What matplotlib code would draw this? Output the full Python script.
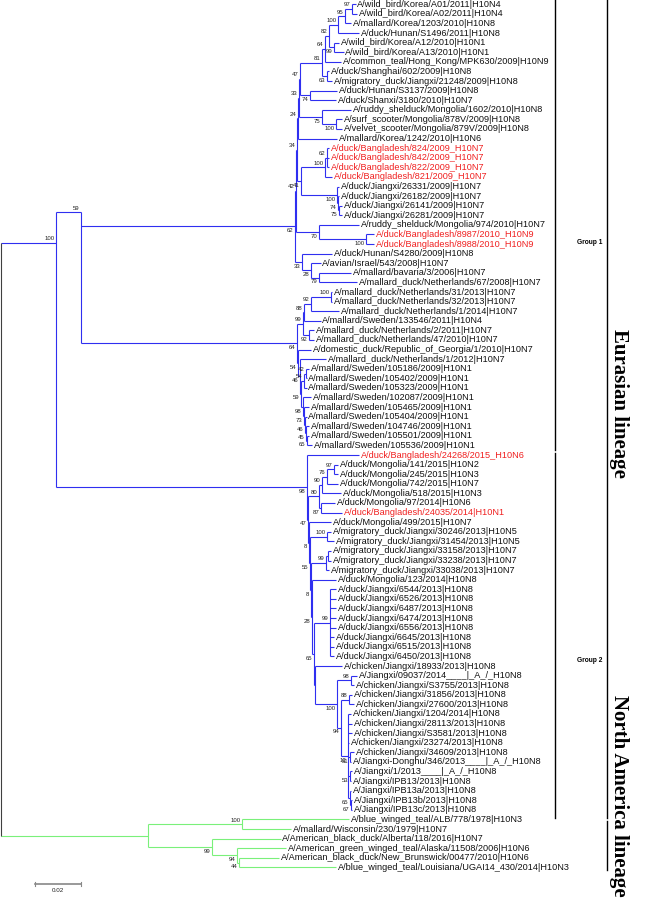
import matplotlib.pyplot as plt
from matplotlib.lines import Line2D

plt.rcParams['font.family'] = ['Liberation Sans', 'DejaVu Sans']

taxa = [
    "A/wild_bird/Korea/A01/2011|H10N4", "A/wild_bird/Korea/A02/2011|H10N4",
    "A/mallard/Korea/1203/2010|H10N8", "A/duck/Hunan/S1496/2011|H10N8",
    "A/wild_bird/Korea/A12/2010|H10N1", "A/wild_bird/Korea/A13/2010|H10N1",
    "A/common_teal/Hong_Kong/MPK630/2009|H10N9", "A/duck/Shanghai/602/2009|H10N8",
    "A/migratory_duck/Jiangxi/21248/2009|H10N8", "A/duck/Hunan/S3137/2009|H10N8",
    "A/duck/Shanxi/3180/2010|H10N7", "A/ruddy_shelduck/Mongolia/1602/2010|H10N8",
    "A/surf_scooter/Mongolia/878V/2009|H10N8", "A/velvet_scooter/Mongolia/879V/2009|H10N8",
    "A/mallard/Korea/1242/2010|H10N6", "A/duck/Bangladesh/824/2009_H10N7",
    "A/duck/Bangladesh/842/2009_H10N7", "A/duck/Bangladesh/822/2009_H10N7",
    "A/duck/Bangladesh/821/2009_H10N7", "A/duck/Jiangxi/26331/2009|H10N7",
    "A/duck/Jiangxi/26182/2009|H10N7", "A/duck/Jiangxi/26141/2009|H10N7",
    "A/duck/Jiangxi/26281/2009|H10N7", "A/ruddy_shelduck/Mongolia/974/2010|H10N7",
    "A/duck/Bangladesh/8987/2010_H10N9", "A/duck/Bangladesh/8988/2010_H10N9",
    "A/duck/Hunan/S4280/2009|H10N8", "A/avian/Israel/543/2008|H10N7",
    "A/mallard/bavaria/3/2006|H10N7", "A/mallard_duck/Netherlands/67/2008|H10N7",
    "A/mallard_duck/Netherlands/31/2013|H10N7", "A/mallard_duck/Netherlands/32/2013|H10N7",
    "A/mallard_duck/Netherlands/1/2014|H10N7", "A/mallard/Sweden/133546/2011|H10N4",
    "A/mallard_duck/Netherlands/2/2011|H10N7", "A/mallard_duck/Netherlands/47/2010|H10N7",
    "A/domestic_duck/Republic_of_Georgia/1/2010|H10N7", "A/mallard_duck/Netherlands/1/2012|H10N7",
    "A/mallard/Sweden/105186/2009|H10N1", "A/mallard/Sweden/105402/2009|H10N1",
    "A/mallard/Sweden/105323/2009|H10N1", "A/mallard/Sweden/102087/2009|H10N1",
    "A/mallard/Sweden/105465/2009|H10N1", "A/mallard/Sweden/105404/2009|H10N1",
    "A/mallard/Sweden/104746/2009|H10N1", "A/mallard/Sweden/105501/2009|H10N1",
    "A/mallard/Sweden/105536/2009|H10N1", "A/duck/Bangladesh/24268/2015_H10N6",
    "A/duck/Mongolia/141/2015|H10N2", "A/duck/Mongolia/245/2015|H10N3",
    "A/duck/Mongolia/742/2015|H10N7", "A/duck/Mongolia/518/2015|H10N3",
    "A/duck/Mongolia/97/2014|H10N6", "A/duck/Bangladesh/24035/2014|H10N1",
    "A/duck/Mongolia/499/2015|H10N7", "A/migratory_duck/Jiangxi/30246/2013|H10N5",
    "A/migratory_duck/Jiangxi/31454/2013|H10N5", "A/migratory_duck/Jiangxi/33158/2013|H10N7",
    "A/migratory_duck/Jiangxi/33238/2013|H10N7", "A/migratory_duck/Jiangxi/33038/2013|H10N7",
    "A/duck/Mongolia/123/2014|H10N8", "A/duck/Jiangxi/6544/2013|H10N8",
    "A/duck/Jiangxi/6526/2013|H10N8", "A/duck/Jiangxi/6487/2013|H10N8",
    "A/duck/Jiangxi/6474/2013|H10N8", "A/duck/Jiangxi/6556/2013|H10N8",
    "A/duck/Jiangxi/6645/2013|H10N8", "A/duck/Jiangxi/6515/2013|H10N8",
    "A/duck/Jiangxi/6450/2013|H10N8", "A/chicken/Jiangxi/18933/2013|H10N8",
    "A/Jiangxi/09037/2014____|_A_/_H10N8", "A/chicken/Jiangxi/S3755/2013|H10N8",
    "A/chicken/Jiangxi/31856/2013|H10N8", "A/chicken/Jiangxi/27600/2013|H10N8",
    "A/chicken/Jiangxi/1204/2014|H10N8", "A/chicken/Jiangxi/28113/2013|H10N8",
    "A/chicken/Jiangxi/S3581/2013|H10N8", "A/chicken/Jiangxi/23274/2013|H10N8",
    "A/chicken/Jiangxi/34609/2013|H10N8", "A/Jiangxi-Donghu/346/2013____|_A_/_H10N8",
    "A/Jiangxi/1/2013____|_A_/_H10N8", "A/Jiangxi/IPB13/2013|H10N8",
    "A/Jiangxi/IPB13a/2013|H10N8", "A/Jiangxi/IPB13b/2013|H10N8",
    "A/Jiangxi/IPB13c/2013|H10N8", "A/blue_winged_teal/ALB/778/1978|H10N3",
    "A/mallard/Wisconsin/230/1979|H10N7", "A/American_black_duck/Alberta/118/2016|H10N7",
    "A/American_green_winged_teal/Alaska/11508/2006|H10N6",
    "A/American_black_duck/New_Brunswick/00477/2010|H10N6",
    "A/blue_winged_teal/Louisiana/UGAI14_430/2014|H10N3",
]

# leaf numbers (1-based) of the Bangladesh sequences shown in red
bangladesh = [16, 17, 18, 19, 25, 26, 48, 54]

# root-to-tip distance of every taxon (substitutions/site)
tip_depth = [
    0.1543, 0.1548, 0.1522, 0.1557, 0.1470, 0.1491, 0.1478, 0.1426, 0.1439, 0.1461,
    0.1457, 0.1522, 0.1483, 0.1483, 0.1461, 0.1426, 0.1426, 0.1426, 0.1439, 0.1470,
    0.1470, 0.1483, 0.1483, 0.1557, 0.1622, 0.1622, 0.1439, 0.1391, 0.1522, 0.1548,
    0.1439, 0.1439, 0.1470, 0.1391, 0.1361, 0.1361, 0.1348, 0.1413, 0.1339, 0.1330,
    0.1330, 0.1348, 0.1339, 0.1330, 0.1339, 0.1339, 0.1352, 0.1557, 0.1465, 0.1465,
    0.1465, 0.1478, 0.1452, 0.1483, 0.1435, 0.1435, 0.1448, 0.1435, 0.1435, 0.1426,
    0.1457, 0.1457, 0.1457, 0.1457, 0.1457, 0.1457, 0.1448, 0.1448, 0.1448, 0.1483,
    0.1548, 0.1535, 0.1526, 0.1535, 0.1522, 0.1526, 0.1526, 0.1513, 0.1535, 0.1522,
    0.1526, 0.1522, 0.1522, 0.1526, 0.1526, 0.1513, 0.1261, 0.1217, 0.1239, 0.1209,
    0.1457,
]

# internal nodes: first leaf, last leaf (1-based), node depth, bootstrap
clades = [
    # Group 1
    (1, 2, 0.1526, 97), (1, 3, 0.1496, 95), (1, 4, 0.1465, 100), (5, 6, 0.1448, 99),
    (1, 6, 0.1426, 82), (1, 7, 0.1409, 64), (8, 9, 0.1417, 63), (1, 9, 0.1396, 81),
    (10, 11, 0.1343, 74), (1, 11, 0.1300, 47), (13, 14, 0.1457, 100), (12, 14, 0.1396, 75),
    (1, 14, 0.1296, 33), (1, 15, 0.1291, 24), (16, 18, 0.1417, 62), (16, 19, 0.1409, 100),
    (22, 23, 0.1470, 75), (21, 23, 0.1465, 74), (20, 23, 0.1461, 100), (16, 23, 0.1304, 41),
    (1, 23, 0.1287, 34), (25, 26, 0.1587, 100), (24, 26, 0.1383, 70), (1, 26, 0.1283, 42),
    (29, 30, 0.1383, 79), (28, 30, 0.1348, 28), (27, 30, 0.1309, 33), (1, 30, 0.1278, 62),
    (31, 32, 0.1435, 100), (31, 33, 0.1348, 92), (31, 34, 0.1317, 88), (35, 36, 0.1339, 92),
    (31, 36, 0.1313, 99), (39, 40, 0.1326, 42), (39, 41, 0.1317, 54), (46, 47, 0.1330, 65),
    (45, 47, 0.1326, 45), (44, 47, 0.1322, 46), (43, 47, 0.1317, 73), (42, 47, 0.1313, 98),
    (39, 47, 0.1304, 59), (38, 47, 0.1300, 46), (37, 47, 0.1291, 54), (31, 47, 0.1287, 64),
    (1, 47, 0.0348, 59),
    # Group 2
    (49, 50, 0.1448, 97), (49, 51, 0.1417, 76), (49, 52, 0.1396, 90), (53, 54, 0.1391, 87),
    (49, 54, 0.1383, 80), (56, 57, 0.1417, 100), (58, 59, 0.1422, None), (58, 60, 0.1413, 99),
    (62, 69, 0.1430, 99), (71, 72, 0.1522, 98), (73, 74, 0.1513, 88), (79, 80, 0.1517, 51),
    (81, 82, 0.1517, 53), (84, 85, 0.1522, 67), (83, 85, 0.1517, 65), (75, 85, 0.1509, 12),
    (73, 85, 0.1478, 94), (71, 85, 0.1461, 100), (70, 85, 0.1365, None), (62, 85, 0.1361, 65),
    (61, 85, 0.1352, 28), (58, 85, 0.1348, 8), (56, 85, 0.1343, 55), (55, 85, 0.1339, 8),
    (49, 85, 0.1335, 47), (48, 85, 0.1330, 98),
    (1, 85, 0.0239, 100),
    # North American lineage
    (86, 87, 0.1048, 100), (90, 91, 0.1035, 44), (89, 91, 0.1026, 94), (88, 91, 0.0917, 99),
    (86, 91, 0.0639, None),
]

n_eurasian = 85

BLUE = '#2f2ff0'
GREEN = '#7af07a'
RED = '#f02020'

# the two deepest Eurasian stems are drawn higher up in the original figure
stem_y = {(1, 47): 21.7, (1, 85): 24.9}

fig = plt.figure(figsize=(6.56, 9.0), dpi=100)
ax = fig.add_axes([0, 0, 1, 1])
ax.axis('off')
ax.set_xlim(-0.0003, 0.2849)
ax.set_ylim(93.4, -0.45)

# build the tree from the leaf ranges
nodes = [(a - 1, b - 1, d, s) for a, b, d, s in clades]
nodes.append((0, len(taxa) - 1, 0.0, None))
nodes.sort(key=lambda n: n[1] - n[0])

node_y = {}
kids = {}
parent_y = {}
for i, (a, b, d, s) in enumerate(nodes):
    inner = [j for j in range(i) if a <= nodes[j][0] and nodes[j][1] <= b]
    top = [j for j in inner
           if not any(k != j and nodes[k][0] <= nodes[j][0] and nodes[j][1] <= nodes[k][1]
                      for k in inner)]
    covered = set()
    for j in top:
        covered.update(range(nodes[j][0], nodes[j][1] + 1))
    ch = [('n', j, nodes[j][0]) for j in top] + \
         [('l', k, k) for k in range(a, b + 1) if k not in covered]
    ch.sort(key=lambda c: c[2])
    kids[i] = ch

    def cy(c):
        return node_y[c[1]] if c[0] == 'n' else float(c[1])
    node_y[i] = stem_y.get((a + 1, b + 1), (cy(ch[0]) + cy(ch[-1])) / 2)
    for c in ch:
        if c[0] == 'n':
            parent_y[c[1]] = node_y[i]


def colour(a, b):
    if b < n_eurasian:
        return BLUE
    if a >= n_eurasian:
        return GREEN
    return '#404040'


for i, (a, b, d, s) in enumerate(nodes):
    ys = [node_y[i]]
    for c in kids[i]:
        if c[0] == 'n':
            ca, cb, cd, _ = nodes[c[1]]
            yy = node_y[c[1]]
        else:
            ca = cb = c[1]
            cd = tip_depth[c[1]]
            yy = float(c[1])
        ax.plot([d, cd], [yy, yy], color=colour(ca, cb), lw=0.8, solid_capstyle='butt')
        ys.append(yy)
    ax.plot([d, d], [min(ys), max(ys)], color=colour(a, b), lw=0.8, solid_capstyle='butt')
    if s is not None and i in parent_y:
        above = node_y[i] < parent_y[i]
        ax.text(d - 0.0006, node_y[i] + (-0.18 if above else 0.18), str(s),
                ha='right', va='bottom' if above else 'top', fontsize=4.3, color='#222222')

for k, name in enumerate(taxa):
    ax.text(tip_depth[k] + 0.0008, k, name, ha='left', va='center', fontsize=6.6,
            color=RED if (k + 1) in bangladesh else '#111111')

# scale bar
ax.plot([0.0148, 0.0348], [91.73, 91.73], color='#888888', lw=1.2)
for xx in (0.0148, 0.0348):
    ax.plot([xx, xx], [91.5, 91.96], color='#888888', lw=0.8)
ax.text(0.0248, 92.2, '0.02', ha='center', va='top', fontsize=4.5, color='#222222')


# clade brackets
def bracket(x, y0, y1):
    ax.add_line(Line2D([x, x], [y0, y1], color='black', lw=1.0))


bracket(0.2409, -0.45, 46.5)
bracket(0.2409, 46.8, 84.9)
ax.text(0.2505, 24.8, 'Group 1', fontsize=4.8, fontweight='bold', va='center')
ax.text(0.2505, 68.4, 'Group 2', fontsize=4.8, fontweight='bold', va='center')
bracket(0.2635, -0.45, 84.9)
bracket(0.2635, 85.2, 90.3)
ax.text(0.2686, 41.6, 'Eurasian lineage', rotation=270, ha='center', va='center',
        fontsize=15, fontweight='bold', family='Liberation Serif')
ax.text(0.2686, 82.5, 'North America lineage', rotation=270, ha='center', va='center',
        fontsize=15, fontweight='bold', family='Liberation Serif')

fig.savefig('out.png', dpi=100)
